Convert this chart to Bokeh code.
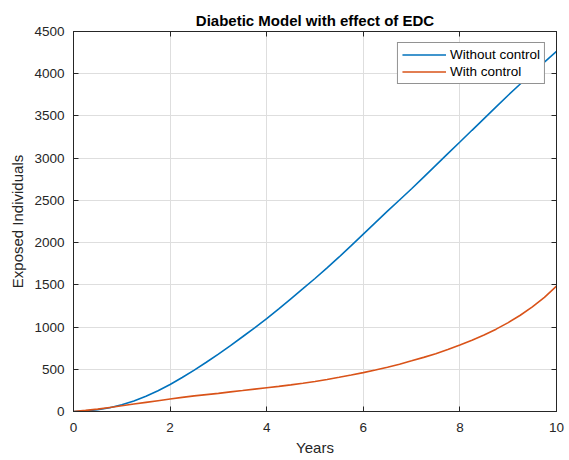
from bokeh.plotting import figure
from bokeh.models import LinearAxis, FixedTicker, Legend, LegendItem, Range1d
from bokeh.embed import file_html
from bokeh.resources import INLINE

# Simulated exposed population over ten years (quarter-year samples)
years = [0, 0.25, 0.5, 0.75, 1, 1.25, 1.5, 1.75, 2, 2.25, 2.5, 2.75, 3, 3.25, 3.5, 3.75,
         4, 4.25, 4.5, 4.75, 5, 5.25, 5.5, 5.75, 6, 6.25, 6.5, 6.75, 7, 7.25, 7.5, 7.75,
         8, 8.25, 8.5, 8.75, 9, 9.25, 9.5, 9.75, 10]
without_control = [0, 5, 20, 45, 80, 125, 180, 245, 320, 402, 490, 583, 680, 781, 885, 991,
                   1100, 1216, 1335, 1454, 1575, 1701, 1830, 1964, 2100, 2236, 2372, 2505,
                   2638, 2776, 2915, 3053, 3191, 3330, 3468, 3607, 3745, 3878, 4010, 4138, 4265]
with_control = [0, 13, 28, 48, 68, 88, 108, 128, 148, 167, 185, 200, 215, 232, 248, 265,
                282, 298, 315, 334, 355, 379, 405, 432, 460, 492, 525, 560, 600, 641, 685,
                734, 787, 843, 905, 975, 1053, 1140, 1238, 1352, 1485]

x_ticks = [0, 2, 4, 6, 8, 10]
y_ticks = [0, 500, 1000, 1500, 2000, 2500, 3000, 3500, 4000, 4500]

FONT = "Liberation Sans"
INK = "#262626"

p = figure(width=569, height=460, output_backend="svg", toolbar_location=None,
           x_range=Range1d(0, 10), y_range=Range1d(0, 4500),
           min_border_left=73, min_border_right=13, min_border_top=31, min_border_bottom=49,
           title="Diabetic Model with effect of EDC")
p.title.align = "center"
p.title.text_font = FONT
p.title.text_font_size = "15px"
p.title.text_font_style = "bold"
p.title.text_color = "#000000"
p.title.offset = 0
p.title.standoff = 6

p.outline_line_color = INK
p.outline_line_width = 1
p.background_fill_color = "white"
p.border_fill_color = "white"

for ax in (p.xaxis[0], p.yaxis[0]):
    ax.major_tick_in = 5
    ax.major_tick_out = 0
    ax.minor_tick_in = 0
    ax.minor_tick_out = 0
    ax.axis_line_color = INK
    ax.major_tick_line_color = INK
    ax.major_label_text_font = FONT
    ax.major_label_text_font_size = "13.5px"
    ax.major_label_text_color = INK
    ax.axis_label_text_font = FONT
    ax.axis_label_text_font_size = "15px"
    ax.axis_label_text_font_style = "normal"
    ax.axis_label_text_color = INK

p.xaxis[0].ticker = FixedTicker(ticks=x_ticks)
p.yaxis[0].ticker = FixedTicker(ticks=y_ticks)
p.xaxis[0].axis_label = "Years"
p.yaxis[0].axis_label = "Exposed Individuals"
p.xaxis[0].major_label_standoff = 11
p.yaxis[0].major_label_standoff = 9
p.xaxis[0].axis_label_standoff = 4
p.yaxis[0].axis_label_standoff = 5

# Box ticks on the top and right edges, no labels
def box_axis(ticks):
    return LinearAxis(ticker=FixedTicker(ticks=ticks), major_tick_in=5, major_tick_out=0,
                      minor_tick_in=0, minor_tick_out=0, major_label_text_font_size="1px",
                      major_label_text_color=None, axis_line_color=INK,
                      major_tick_line_color=INK, major_label_standoff=0)

p.add_layout(box_axis(x_ticks), "above")
p.add_layout(box_axis(y_ticks), "right")

p.xgrid.ticker = FixedTicker(ticks=x_ticks)
p.ygrid.ticker = FixedTicker(ticks=y_ticks)
p.grid.grid_line_color = "#dedede"
p.grid.grid_line_width = 1

r1 = p.line(years, without_control, line_color="#0072BD", line_width=1.6)
r2 = p.line(years, with_control, line_color="#D95319", line_width=1.6)

legend = Legend(items=[LegendItem(label="Without control", renderers=[r1]),
                       LegendItem(label="With control", renderers=[r2])],
                location="top_right")
legend.label_text_font = FONT
legend.label_text_font_size = "13.5px"
legend.label_text_color = "#000000"
legend.border_line_color = INK
legend.border_line_width = 1
legend.background_fill_color = "white"
legend.background_fill_alpha = 1
legend.glyph_width = 44
legend.glyph_height = 15
legend.label_standoff = 4
legend.label_height = 15
legend.spacing = 2
legend.padding = 4
legend.margin = 11
p.add_layout(legend, "center")

open("out.html", "w").write(file_html(p, INLINE))
